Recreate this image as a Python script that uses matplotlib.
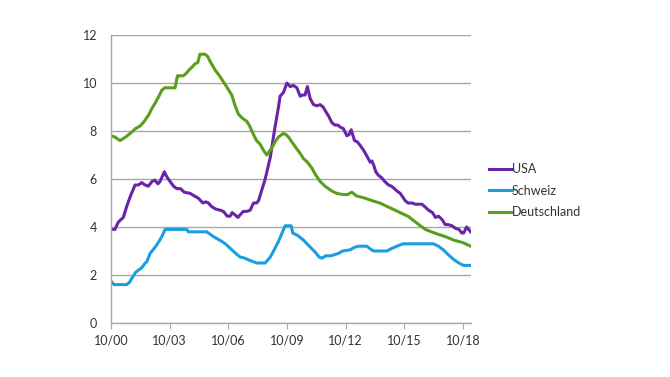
import matplotlib
matplotlib.use("Agg")
import matplotlib.pyplot as plt

plt.rcParams['font.family'] = ['Lato', 'DejaVu Sans']

# ---- data (decimal years, unemployment rate %) ----
usa_x = [2000.75, 2000.95, 2001.12, 2001.25, 2001.38, 2001.55, 2001.75, 2001.98, 2002.15, 2002.32,
         2002.5, 2002.66, 2002.85, 2003.0, 2003.15, 2003.26, 2003.48, 2003.6, 2003.77, 2003.95,
         2004.11, 2004.3, 2004.5, 2004.8, 2005.0, 2005.22, 2005.45, 2005.6, 2005.73, 2005.9,
         2006.1, 2006.33, 2006.5, 2006.7, 2006.84, 2006.95, 2007.1, 2007.25, 2007.35, 2007.52,
         2007.7, 2007.87, 2008.04, 2008.2, 2008.3, 2008.47, 2008.64, 2008.9, 2009.05, 2009.15,
         2009.32, 2009.4, 2009.57, 2009.75, 2009.92, 2010.08, 2010.26, 2010.43, 2010.55, 2010.68,
         2010.8, 2010.94, 2011.11, 2011.3, 2011.45, 2011.6, 2011.71, 2011.9, 2012.05, 2012.2,
         2012.35, 2012.5, 2012.64, 2012.82, 2012.93, 2013.04, 2013.21, 2013.35, 2013.5, 2013.67,
         2013.85, 2014.01, 2014.1, 2014.18, 2014.3, 2014.44, 2014.6, 2014.75, 2014.95, 2015.1,
         2015.25, 2015.38, 2015.55, 2015.68, 2015.8, 2015.95, 2016.15, 2016.32, 2016.5, 2016.66,
         2016.8, 2017.0, 2017.2, 2017.35, 2017.51, 2017.7, 2017.85, 2018.0, 2018.2, 2018.36,
         2018.55, 2018.7, 2018.79, 2018.95, 2019.05, 2019.15]
usa_y = [3.9, 3.9, 4.2, 4.3, 4.4, 4.85, 5.3, 5.75, 5.75, 5.85,
         5.75, 5.7, 5.9, 5.95, 5.8, 5.9, 6.3, 6.1, 5.9, 5.7,
         5.6, 5.6, 5.45, 5.4, 5.3, 5.2, 5.0, 5.05, 5.0, 4.85,
         4.75, 4.7, 4.65, 4.45, 4.45, 4.6, 4.5, 4.4, 4.5, 4.65,
         4.65, 4.7, 5.0, 5.0, 5.1, 5.55, 6.0, 6.9, 7.7, 8.2,
         9.0, 9.45, 9.6, 10.0, 9.85, 9.9, 9.8, 9.45, 9.5, 9.5,
         9.85, 9.35, 9.1, 9.05, 9.1, 9.0, 8.85, 8.6, 8.35, 8.25,
         8.25, 8.15, 8.1, 7.8, 7.85, 8.05, 7.6, 7.55, 7.4, 7.2,
         6.95, 6.7, 6.75, 6.6, 6.3, 6.15, 6.05, 5.9, 5.75, 5.7,
         5.6, 5.5, 5.4, 5.25, 5.1, 5.0, 5.0, 4.95, 4.95, 4.95,
         4.85, 4.7, 4.6, 4.4, 4.45, 4.3, 4.1, 4.1, 4.05, 3.95,
         3.9, 3.75, 3.75, 4.0, 3.9, 3.8]

ch_x = [2000.75, 2000.9, 2001.55, 2001.7, 2001.81, 2002.0, 2002.15, 2002.32, 2002.5, 2002.58,
        2002.75, 2002.9, 2003.09, 2003.35, 2003.52, 2004.63, 2004.7, 2005.65, 2005.99, 2006.42,
        2006.6, 2006.93, 2007.2, 2007.35, 2007.6, 2007.87, 2008.21, 2008.64, 2008.9, 2009.1,
        2009.32, 2009.66, 2009.97, 2010.05, 2010.3, 2010.6, 2010.9, 2011.2, 2011.4, 2011.54,
        2011.75, 2012.0, 2012.2, 2012.39, 2012.6, 2012.99, 2013.2, 2013.41, 2013.84, 2014.0,
        2014.18, 2014.86, 2015.1, 2015.38, 2015.7, 2017.25, 2017.5, 2017.75, 2018.0, 2018.28,
        2018.55, 2018.79, 2019.15]
ch_y = [1.75, 1.6, 1.6, 1.7, 1.85, 2.1, 2.2, 2.3, 2.5, 2.55,
        2.9, 3.05, 3.25, 3.6, 3.9, 3.9, 3.8, 3.8, 3.6, 3.4,
        3.3, 3.05, 2.85, 2.75, 2.7, 2.6, 2.5, 2.5, 2.75, 3.05,
        3.4, 4.05, 4.05, 3.75, 3.65, 3.45, 3.2, 2.95, 2.75, 2.7,
        2.8, 2.8, 2.85, 2.9, 3.0, 3.05, 3.15, 3.2, 3.2, 3.1,
        3.0, 3.0, 3.1, 3.2, 3.3, 3.3, 3.2, 3.05, 2.85, 2.65,
        2.5, 2.4, 2.4]

de_x = [2000.75, 2000.95, 2001.21, 2001.5, 2001.81, 2002.0, 2002.23, 2002.45, 2002.66, 2002.85,
        2003.0, 2003.2, 2003.35, 2003.5, 2003.65, 2004.03, 2004.15, 2004.2, 2004.45, 2004.6,
        2004.75, 2004.88, 2005.05, 2005.19, 2005.3, 2005.56, 2005.7, 2005.82, 2006.07, 2006.3,
        2006.5, 2006.7, 2006.93, 2007.1, 2007.27, 2007.45, 2007.7, 2007.85, 2008.04, 2008.2,
        2008.38, 2008.55, 2008.72, 2008.85, 2008.98, 2009.15, 2009.32, 2009.57, 2009.7, 2009.83,
        2010.0, 2010.17, 2010.4, 2010.6, 2010.8, 2011.03, 2011.2, 2011.45, 2011.7, 2012.05,
        2012.3, 2012.64, 2012.85, 2013.07, 2013.3, 2013.75, 2014.1, 2014.5, 2015.29, 2015.98,
        2016.5, 2016.83, 2017.3, 2017.85, 2018.3, 2018.75, 2019.15]
de_y = [7.8, 7.75, 7.6, 7.75, 7.95, 8.1, 8.2, 8.4, 8.65, 8.95,
        9.15, 9.45, 9.7, 9.8, 9.8, 9.8, 10.3, 10.3, 10.3, 10.4,
        10.55, 10.65, 10.8, 10.85, 11.2, 11.2, 11.1, 10.9, 10.55, 10.3,
        10.05, 9.8, 9.5, 9.05, 8.7, 8.55, 8.4, 8.2, 7.85, 7.6,
        7.45, 7.2, 7.0, 7.15, 7.3, 7.55, 7.75, 7.9, 7.85, 7.75,
        7.55, 7.35, 7.1, 6.85, 6.7, 6.45, 6.2, 5.9, 5.7, 5.5,
        5.4, 5.35, 5.35, 5.45, 5.3, 5.2, 5.1, 5.0, 4.7, 4.43,
        4.1, 3.9, 3.75, 3.6, 3.45, 3.35, 3.2]

series_names = ["USA", "Schweiz", "Deutschland"]
tick_pos = [2000.75, 2003.75, 2006.75, 2009.75, 2012.75, 2015.75, 2018.75]
tick_labels = ["10/00", "10/03", "10/06", "10/09", "10/12", "10/15", "10/18"]
y_ticks = [0, 2, 4, 6, 8, 10, 12]

colors = ["#6a24a8", "#1a9ee0", "#5a9f1c"]

fig = plt.figure(figsize=(6.7, 3.77), dpi=100)
ax = fig.add_axes([111/670, 1-323/377, 360/670, 288/377])

for xs, ys, c, n in zip([usa_x, ch_x, de_x], [usa_y, ch_y, de_y], colors, series_names):
    ax.plot(xs, ys, color=c, lw=2.2, label=n, solid_joinstyle='round')

ax.set_xlim(2000.75, 2019.17)
ax.set_ylim(0, 12)
ax.set_yticks(y_ticks)
ax.set_yticklabels([str(v) for v in y_ticks])
ax.set_xticks(tick_pos)
ax.set_xticklabels(tick_labels)

ax.grid(axis='y', color='#a8a8a8', lw=1.0)
ax.set_axisbelow(True)
for s in ['top', 'right']:
    ax.spines[s].set_visible(False)
for s in ['left', 'bottom']:
    ax.spines[s].set_color('#a8a8a8')
    ax.spines[s].set_linewidth(1.0)
ax.tick_params(axis='y', length=0, pad=10, labelsize=9, labelcolor='#333333')
ax.tick_params(axis='x', length=4, color='#a8a8a8', pad=4, labelsize=9, labelcolor='#333333')

leg = fig.legend(loc='upper left', bbox_to_anchor=(489/670, 1-163/377), frameon=False,
                 handlelength=1.85, handletextpad=0.0, labelspacing=0.78, borderpad=0,
                 borderaxespad=0, fontsize=9)
for t in leg.get_texts():
    t.set_color('#333333')

fig.savefig("out.png", dpi=100)
